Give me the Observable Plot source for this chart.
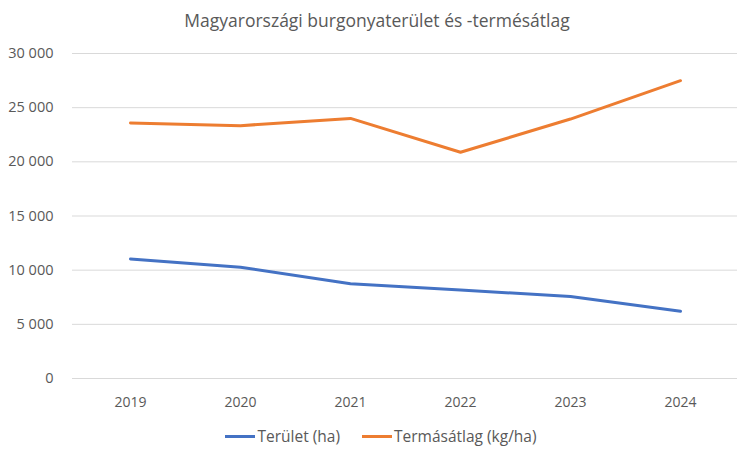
<!DOCTYPE html>
<html>
<head>
<meta charset="utf-8">
<script src="https://cdn.jsdelivr.net/npm/d3@7"></script>
<script src="https://cdn.jsdelivr.net/npm/@observablehq/plot@0.6"></script>
<style>
  body { margin: 0; background: #fff; font-family: "Open Sans", sans-serif; }
  #wrap { width: 750px; height: 458px; position: relative; }
  #title { height: 40px; line-height: 40px; text-align: center; font-size: 17.5px; color: #595959; padding-left: 4px; }
  #legend { position: absolute; top: 425px; left: 6px; width: 750px; height: 22px; display: flex; justify-content: center; gap: 22px; font-size: 15.5px; color: #595959; }
  .item { display: flex; align-items: center; }
  .sw { width: 30px; height: 3px; margin-right: 2px; }
</style>
</head>
<body>
<div id="wrap">
  <div id="title">Magyarországi burgonyaterület és -termésátlag</div>
  <div id="chart"></div>
  <div id="legend"></div>
</div>
<script>
const years = ["2019", "2020", "2021", "2022", "2023", "2024"];
const terulet = [11040, 10270, 8740, 8180, 7560, 6210];
const termesatlag = [23590, 23340, 24010, 20880, 23950, 27490];
const seriesNames = ["Terület (ha)", "Termásátlag (kg/ha)"];
const seriesColors = ["#4472C4", "#ED7D31"];
const yTicks = [0, 5000, 10000, 15000, 20000, 25000, 30000];

const data = [];
years.forEach((y, i) => {
  data.push({ year: y, value: terulet[i], series: seriesNames[0] });
  data.push({ year: y, value: termesatlag[i], series: seriesNames[1] });
});

const fmt = d3.formatLocale({ decimal: ",", thousands: " ", grouping: [3], currency: ["", ""] }).format(",d");

const chart = Plot.plot({
  width: 750,
  height: 380,
  marginTop: 13,
  marginBottom: 42,
  marginLeft: 72,
  marginRight: 13,
  style: { fontFamily: "Open Sans, sans-serif", fontSize: "14px", color: "#595959", background: "#fff" },
  x: { type: "point", domain: years, padding: 0.5, label: null },
  y: { domain: [0, 30000], ticks: yTicks, label: null },
  color: { domain: seriesNames, range: seriesColors },
  marks: [
    Plot.gridY(yTicks, { stroke: "#d9d9d9", strokeOpacity: 1, strokeWidth: 1 }),
    Plot.axisY(yTicks, { tickSize: 0, tickPadding: 19, tickFormat: fmt, fill: "#595959", label: null, fontSize: 14.5 }),
    Plot.axisX({ tickSize: 0, tickPadding: 19, fill: "#595959", label: null, fontSize: 14 }),
    Plot.line(data, { x: "year", y: "value", stroke: "series", strokeWidth: 3, strokeLinecap: "round", strokeLinejoin: "round" })
  ]
});
document.getElementById("chart").appendChild(chart);

const legend = document.getElementById("legend");
seriesNames.forEach((name, i) => {
  const item = document.createElement("div");
  item.className = "item";
  const sw = document.createElement("div");
  sw.className = "sw";
  sw.style.background = seriesColors[i];
  const label = document.createElement("span");
  label.textContent = name;
  item.appendChild(sw);
  item.appendChild(label);
  legend.appendChild(item);
});
</script>
</body>
</html>
